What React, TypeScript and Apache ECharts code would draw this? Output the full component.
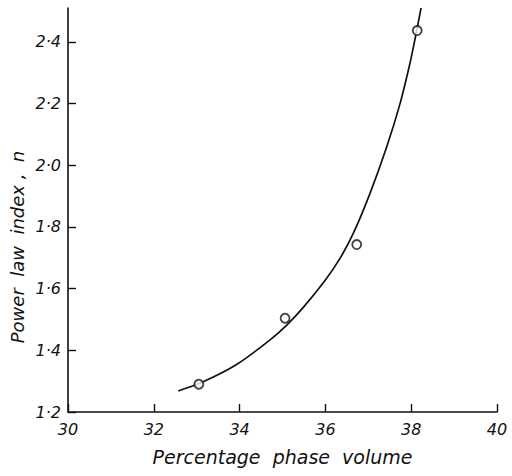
import React, { useEffect, useRef } from "react";
import * as echarts from "echarts";

const pointX = [33.05, 35.06, 36.73, 38.14];
const pointY = [1.29, 1.504, 1.743, 2.437];

const curveX = [32.57, 33.15, 33.93, 34.71, 35.1, 35.49, 36.0, 36.34, 36.65, 37.04, 37.43, 37.74, 37.97, 38.09, 38.23];
const curveY = [1.268, 1.298, 1.354, 1.434, 1.482, 1.54, 1.628, 1.698, 1.779, 1.909, 2.06, 2.2, 2.33, 2.41, 2.51];

const yTicks = [1.2, 1.4, 1.6, 1.8, 2.0, 2.2, 2.4];
const xTicks = [30, 32, 34, 36, 38, 40];

const xName = "Percentage  phase  volume";
const yName = "Power  law  index ,  n";

const FONT = "DejaVu Sans";

export default function App() {
  const ref = useRef<HTMLDivElement>(null);
  useEffect(() => {
    document.body.style.margin = "0";
    const chart = echarts.init(ref.current!, null, { renderer: "svg" });
    const labelStyle = {
      color: "#111",
      fontFamily: FONT,
      fontStyle: "italic" as const,
      fontSize: 16,
    };
    chart.setOption({
      animation: false,
      backgroundColor: "#fff",
      grid: { left: 68, right: 15, top: 8, bottom: 64, containLabel: false },
      xAxis: {
        type: "value",
        min: 30,
        max: 40,
        interval: 2,
        name: xName,
        nameLocation: "middle",
        nameGap: 35,
        nameTextStyle: { ...labelStyle, fontSize: 19 },
        axisLine: { lineStyle: { color: "#111", width: 1.6 } },
        axisTick: { inside: true, length: 8, lineStyle: { color: "#111", width: 1.4 }, customValues: xTicks },
        axisLabel: { ...labelStyle, margin: 9, customValues: xTicks, formatter: (v: number) => String(v) },
        splitLine: { show: false },
      },
      yAxis: {
        type: "value",
        min: 1.2,
        max: 2.51,
        interval: 0.2,
        axisLine: { show: true, lineStyle: { color: "#111", width: 1.6 } },
        axisTick: { show: true, inside: true, length: 8, lineStyle: { color: "#111", width: 1.4 }, customValues: yTicks },
        axisLabel: {
          ...labelStyle,
          margin: 7,
          customValues: yTicks,
          formatter: (v: number) => v.toFixed(1).replace(".", "·"),
        },
        splitLine: { show: false },
      },
      graphic: [
        {
          type: "text",
          x: 17,
          y: 247,
          rotation: Math.PI / 2,
          style: {
            text: yName,
            fill: "#111",
            font: `italic 18px "${FONT}"`,
            align: "center",
            verticalAlign: "middle",
          },
        },
      ],
      series: [
        {
          type: "line",
          data: curveX.map((x, i) => [x, curveY[i]]),
          smooth: 0.2,
          showSymbol: false,
          lineStyle: { color: "#111", width: 1.7 },
          z: 2,
        },
        {
          type: "scatter",
          data: pointX.map((x, i) => [x, pointY[i]]),
          symbol: "circle",
          symbolSize: 9,
          itemStyle: { color: "#fff", borderColor: "#111", borderWidth: 1.8 },
          z: 3,
        },
      ],
    });
    return () => chart.dispose();
  }, []);
  return <div ref={ref} style={{ position: "fixed", left: 0, top: 0, width: 512, height: 476 }} />;
}
